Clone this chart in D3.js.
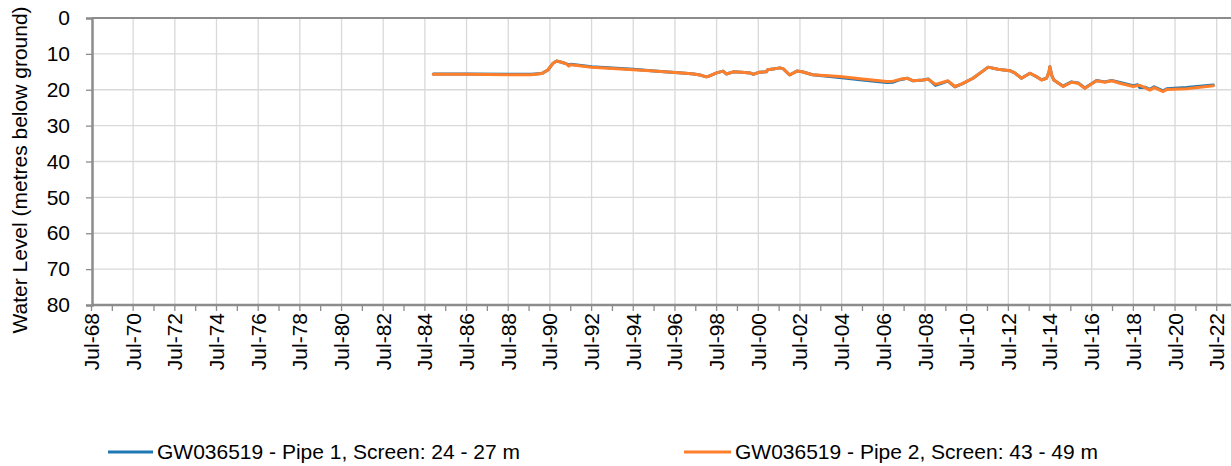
<!DOCTYPE html>
<html>
<head>
<meta charset="utf-8">
<script src="https://cdn.jsdelivr.net/npm/d3@7"></script>
<style>
  html, body { margin: 0; padding: 0; background: #fff; }
  svg { display: block; }
  text { font-family: "Liberation Sans", Arial, sans-serif; fill: #000; }
</style>
</head>
<body>
<svg id="chart" width="1231" height="466"></svg>
<script>
// ---- data (decimal years, metres below ground) ----
const dates = [
  1984.9, 1986.5, 1988.5, 1989.6, 1990.1, 1990.4, 1990.65, 1990.82, 1991.1, 1991.3,
  1991.4, 1991.5, 1992.5, 1994.5, 1995.5, 1996.0, 1996.5, 1997.0, 1997.4, 1997.7,
  1998.0, 1998.1, 1998.5, 1998.8, 1998.97, 1999.3, 1999.7, 2000.1, 2000.26, 2000.55,
  2000.88, 2000.95, 2001.2, 2001.54, 2001.7, 2002.0, 2002.35, 2002.6, 2003.1, 2004.4,
  2005.5, 2006.66, 2006.97, 2007.3, 2007.66, 2007.93, 2008.4, 2008.65, 2009.0, 2009.6,
  2009.93, 2010.3, 2010.8, 2011.53, 2012.0, 2012.57, 2012.8, 2013.13, 2013.53, 2013.8,
  2014.09, 2014.33, 2014.45, 2014.49, 2014.58, 2014.68, 2015.13, 2015.53, 2015.85, 2016.17,
  2016.73, 2017.13, 2017.45, 2017.85, 2018.49, 2018.7, 2018.81, 2019.05, 2019.29, 2019.49,
  2019.93, 2020.1, 2021.05, 2022.33
];
const pipe1 = [
  15.6, 15.6, 15.7, 15.7, 15.5, 14.5, 12.6, 12.0, 12.4, 12.8,
  13.2, 12.9, 13.6, 14.3, 14.8, 15.0, 15.2, 15.4, 15.6, 15.9,
  16.4, 16.3, 15.3, 14.8, 15.6, 15.0, 15.1, 15.3, 15.7, 15.1,
  15.0, 14.4, 14.2, 13.9, 14.2, 15.9, 14.8, 15.0, 15.8, 16.6,
  17.3, 18.0, 17.9, 17.2, 16.8, 17.5, 17.3, 17.0, 18.8, 17.6,
  19.2, 18.3, 16.8, 13.7, 14.3, 14.7, 15.3, 16.8, 15.4, 16.2,
  17.2, 16.8, 15.0, 13.6, 16.0, 17.3, 19.0, 17.8, 18.1, 19.5,
  17.4, 17.8, 17.4, 18.0, 18.9, 18.6, 19.4, 19.3, 19.9, 19.2,
  20.3, 19.7, 19.4, 18.7
];
const pipe2 = [
  15.7, 15.7, 15.8, 15.8, 15.5, 14.5, 12.6, 12.0, 12.4, 12.8,
  13.4, 13.0, 13.7, 14.4, 14.8, 15.0, 15.2, 15.4, 15.6, 15.9,
  16.4, 16.3, 15.3, 14.8, 15.6, 15.0, 15.1, 15.3, 15.7, 15.1,
  15.0, 14.4, 14.2, 13.9, 14.2, 15.9, 14.8, 15.0, 15.8, 16.3,
  17.0, 17.7, 17.6, 17.1, 16.8, 17.5, 17.3, 17.1, 18.5, 17.5,
  19.1, 18.3, 16.8, 13.7, 14.3, 14.7, 15.3, 16.8, 15.4, 16.2,
  17.3, 16.8, 15.0, 13.6, 16.0, 17.3, 19.1, 17.9, 18.2, 19.6,
  17.5, 17.9, 17.5, 18.2, 19.1, 18.8, 18.8, 19.4, 20.1, 19.4,
  20.5, 19.9, 19.7, 18.9
];
const yTicks = [0, 10, 20, 30, 40, 50, 60, 70, 80];
const seriesNames = [
  "GW036519 - Pipe 1, Screen: 24 - 27 m",
  "GW036519 - Pipe 2, Screen: 43 - 49 m"
];
const seriesColors = ["#1f77b4", "#ff7f2a"];
const yLabel = "Water Level (metres below ground)";

// ---- helpers ----
function decToDate(d) {
  const y = Math.floor(d);
  const start = new Date(y, 0, 1), end = new Date(y + 1, 0, 1);
  return new Date(start.getTime() + (d - y) * (end - start));
}

const FS = 21;
const svg = d3.select("#chart");
const plot = { left: 92, right: 1231, top: 18, bottom: 305 };

const x = d3.scaleTime()
  .domain([new Date(1968, 6, 1), new Date(2022, 6, 1)])
  .range([91.5, 1216.7]);
const y = d3.scaleLinear().domain([0, 80]).range([plot.top, plot.bottom]);

const majorTicks = d3.range(1968, 2023, 2).map(yr => new Date(yr, 6, 1));
const minorTicks = d3.range(1969, 2023, 2).map(yr => new Date(yr, 6, 1));

// gridlines
const grid = svg.append("g");
grid.selectAll("line.h").data(yTicks.slice(1, -1)).join("line")
  .attr("x1", plot.left).attr("x2", plot.right)
  .attr("y1", d => y(d)).attr("y2", d => y(d))
  .attr("stroke", "#d9d9d9").attr("stroke-width", 1.3);
grid.selectAll("line.v").data(majorTicks.slice(1)).join("line")
  .attr("x1", d => x(d)).attr("x2", d => x(d))
  .attr("y1", plot.top).attr("y2", plot.bottom)
  .attr("stroke", "#d9d9d9").attr("stroke-width", 1.3);

// series
const line = d3.line().x(d => x(d[0])).y(d => y(d[1]));
[pipe1, pipe2].forEach((vals, i) => {
  const pts = dates.map((d, j) => [decToDate(d), vals[j]]);
  svg.append("path").datum(pts)
    .attr("d", line)
    .attr("fill", "none")
    .attr("stroke", seriesColors[i])
    .attr("stroke-width", 3)
    .attr("stroke-linejoin", "round")
    .attr("stroke-linecap", "round");
});

// frame: top border
const axisColor = "#8c8c8c";
svg.append("line").attr("x1", plot.left).attr("x2", plot.right)
  .attr("y1", plot.top).attr("y2", plot.top)
  .attr("stroke", axisColor).attr("stroke-width", 2);

// Y axis
const yAxis = d3.axisLeft(y).tickValues(yTicks).tickSize(6).tickPadding(16)
  .tickFormat(d3.format("d"));
const gy = svg.append("g").attr("transform", `translate(${plot.left},0)`).call(yAxis);
gy.select(".domain").attr("stroke", axisColor).attr("stroke-width", 2.5);
gy.selectAll(".tick line").attr("stroke", axisColor).attr("stroke-width", 1.3);
gy.selectAll(".tick text").attr("font-size", FS)
  .attr("font-family", "Liberation Sans, Arial, sans-serif").attr("fill", "#000");

// X axis
const gx = svg.append("g").attr("transform", `translate(0,${plot.bottom})`);
gx.append("line").attr("x1", plot.left).attr("x2", plot.right)
  .attr("stroke", axisColor).attr("stroke-width", 2.5);
gx.selectAll("line.mt").data(majorTicks.concat(minorTicks)).join("line")
  .attr("x1", d => x(d)).attr("x2", d => x(d))
  .attr("y1", 0).attr("y2", 6)
  .attr("stroke", axisColor).attr("stroke-width", 1.3);
const fmt = d3.timeFormat("%b-%y");
gx.selectAll("text").data(majorTicks).join("text")
  .attr("transform", d => `translate(${x(d) + 7.5},8) rotate(-90)`)
  .attr("text-anchor", "end")
  .attr("font-size", FS)
  .text(d => fmt(d));

// Y label
svg.append("text")
  .attr("transform", `translate(27,170) rotate(-90)`)
  .attr("text-anchor", "middle")
  .attr("font-size", FS)
  .text(yLabel);

// Legend
const legendItems = [
  { x1: 108, x2: 153, tx: 157 },
  { x1: 684, x2: 731, tx: 735 }
];
legendItems.forEach((it, i) => {
  svg.append("line").attr("x1", it.x1).attr("x2", it.x2)
    .attr("y1", 452).attr("y2", 452)
    .attr("stroke", seriesColors[i]).attr("stroke-width", 3);
  svg.append("text").attr("x", it.tx).attr("y", 459)
    .attr("font-size", FS).text(seriesNames[i]);
});
</script>
</body>
</html>
